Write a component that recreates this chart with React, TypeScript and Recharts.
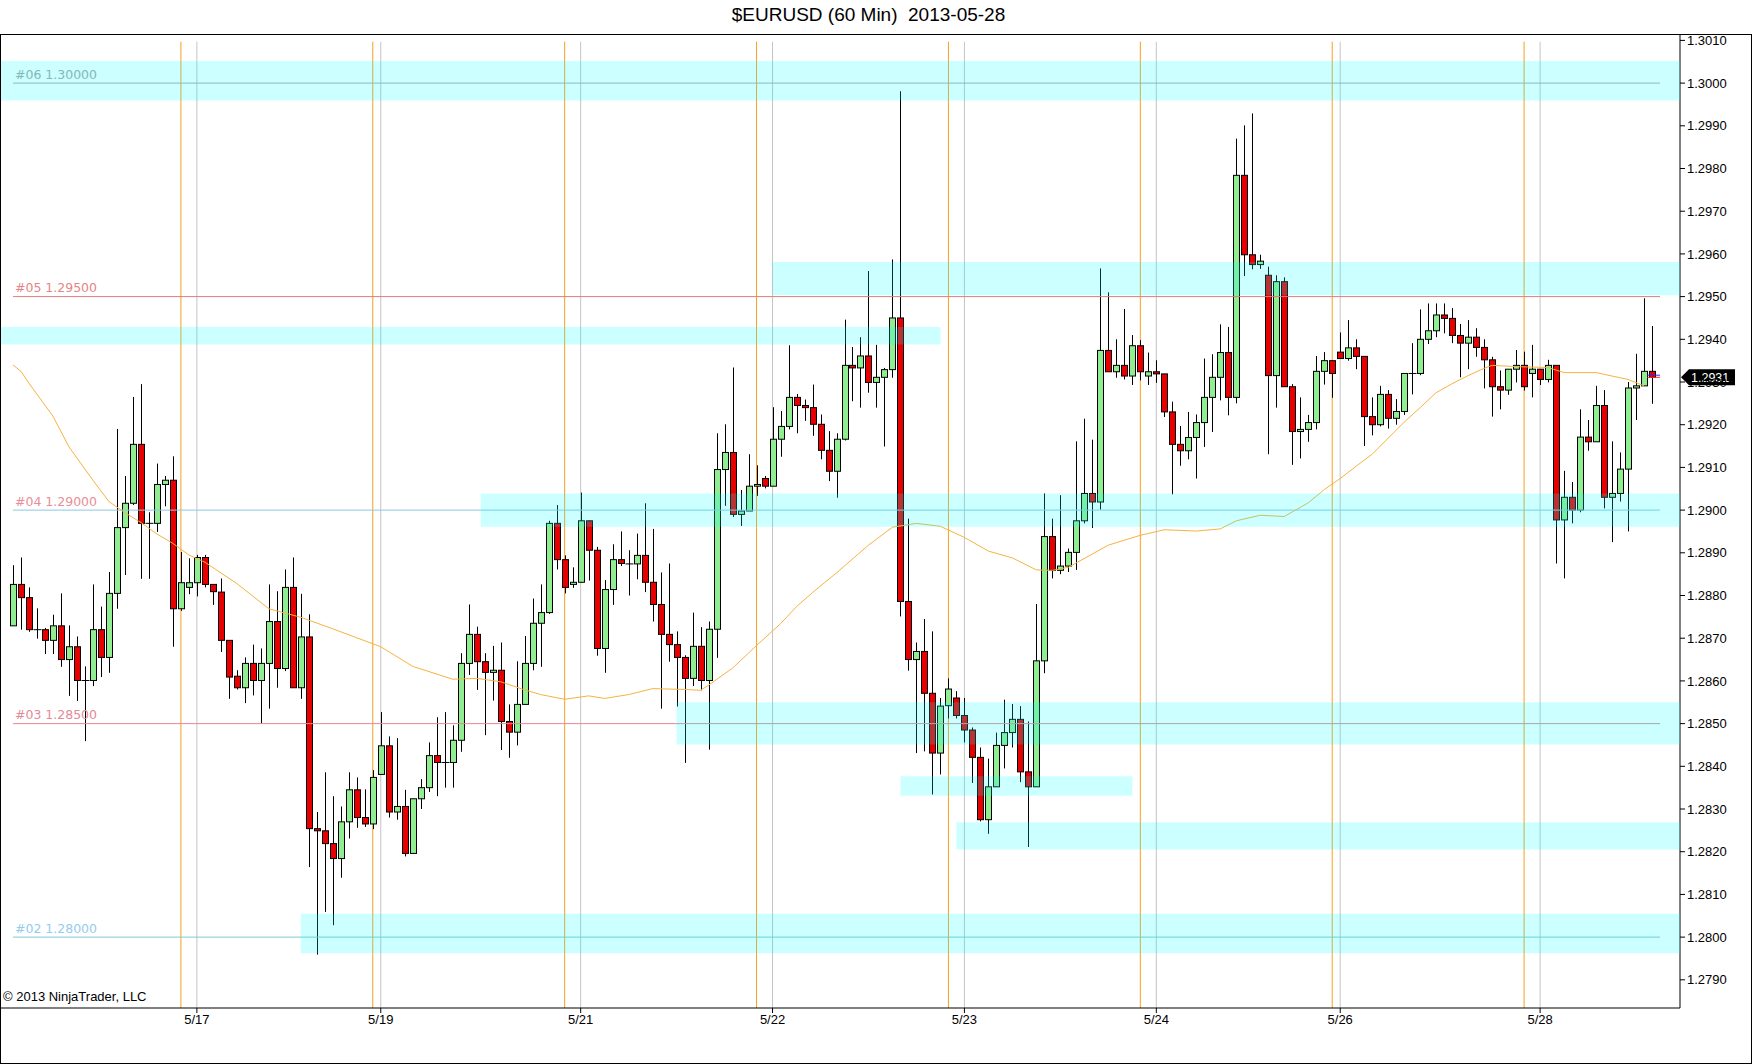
import React from 'react';
import { ComposedChart, Bar, Line, XAxis, YAxis, ReferenceLine, ReferenceArea } from 'recharts';

// hourly bars (bar 0 = first bar on the left)
const opens = [
  1.28729, 1.28826, 1.28795, 1.28720, 1.28720, 1.28695, 1.28729, 1.28650, 1.28680, 1.28601,
  1.28601, 1.28720, 1.28655, 1.28805, 1.28959, 1.29016, 1.29154, 1.28969, 1.28969, 1.29060,
  1.29070, 1.28769, 1.28819, 1.28830, 1.28889, 1.28826, 1.28808, 1.28695, 1.28611, 1.28584,
  1.28641, 1.28601, 1.28641, 1.28739, 1.28629, 1.28819, 1.28584, 1.28703, 1.28254, 1.28249,
  1.28219, 1.28184, 1.28270, 1.28345, 1.28280, 1.28265, 1.28381, 1.28448, 1.28293, 1.28306,
  1.28196, 1.28324, 1.28350, 1.28425, 1.28409, 1.28409, 1.28461, 1.28641, 1.28709, 1.28645,
  1.28620, 1.28625, 1.28505, 1.28480, 1.28545, 1.28641, 1.28735, 1.28760, 1.28969, 1.28884,
  1.28826, 1.28831, 1.28975, 1.28906, 1.28676, 1.28814, 1.28884, 1.28874, 1.28874, 1.28894,
  1.28831, 1.28779, 1.28709, 1.28685, 1.28655, 1.28606, 1.28681, 1.28601, 1.28721, 1.29095,
  1.29135, 1.28990, 1.28998, 1.29056, 1.29074, 1.29056, 1.29166, 1.29196, 1.29264, 1.29245,
  1.29240, 1.29201, 1.29140, 1.29091, 1.29166, 1.29339, 1.29333, 1.29361, 1.29299, 1.29311,
  1.29329, 1.29450, 1.28786, 1.28650, 1.28669, 1.28571, 1.28431, 1.28542, 1.28560, 1.28519,
  1.28485, 1.28421, 1.28275, 1.28352, 1.28449, 1.28479, 1.28510, 1.28387, 1.28352, 1.28647,
  1.28938, 1.28859, 1.28869, 1.28901, 1.28975, 1.29039, 1.29019, 1.29374, 1.29324, 1.29339,
  1.29314, 1.29385, 1.29314, 1.29324, 1.29319, 1.29230, 1.29154, 1.29139, 1.29170, 1.29205,
  1.29264, 1.29311, 1.29369, 1.29264, 1.29784, 1.29598, 1.29575, 1.29550, 1.29315, 1.29535,
  1.29289, 1.29184, 1.29189, 1.29205, 1.29325, 1.29350, 1.29370, 1.29355, 1.29380, 1.29360,
  1.29219, 1.29200, 1.29271, 1.29215, 1.29231, 1.29320, 1.29320, 1.29400, 1.29420, 1.29457,
  1.29449, 1.29409, 1.29391, 1.29405, 1.29381, 1.29352, 1.29289, 1.29281, 1.29330, 1.29339,
  1.29320, 1.29330, 1.29306, 1.29339, 1.28977, 1.29030, 1.29000, 1.29171, 1.29160, 1.29245,
  1.29030, 1.29039, 1.29096, 1.29286, 1.29291, 1.29325,
];

const highs = [
  1.28871, 1.28889, 1.28819, 1.28770, 1.28724, 1.28755, 1.28805, 1.28730, 1.28704, 1.28634,
  1.28826, 1.28774, 1.28855, 1.29190, 1.29080, 1.29265, 1.29295, 1.28995, 1.29109, 1.29080,
  1.29126, 1.28902, 1.28887, 1.28895, 1.28895, 1.28826, 1.28840, 1.28695, 1.28625, 1.28655,
  1.28685, 1.28676, 1.28826, 1.28810, 1.28861, 1.28889, 1.28804, 1.28756, 1.28293, 1.28386,
  1.28330, 1.28306, 1.28386, 1.28374, 1.28346, 1.28391, 1.28527, 1.28470, 1.28466, 1.28345,
  1.28324, 1.28370, 1.28456, 1.28515, 1.28527, 1.28496, 1.28665, 1.28779, 1.28727, 1.28665,
  1.28682, 1.28690, 1.28545, 1.28646, 1.28705, 1.28793, 1.28826, 1.28975, 1.29012, 1.28894,
  1.28866, 1.29041, 1.28975, 1.28914, 1.28836, 1.28920, 1.28950, 1.28906, 1.28945, 1.29016,
  1.28956, 1.28854, 1.28875, 1.28716, 1.28660, 1.28760, 1.28726, 1.28739, 1.29180, 1.29201,
  1.29334, 1.29047, 1.29131, 1.29105, 1.29080, 1.29241, 1.29232, 1.29386, 1.29272, 1.29259,
  1.29294, 1.29224, 1.29185, 1.29180, 1.29446, 1.29382, 1.29405, 1.29560, 1.29387, 1.29333,
  1.29587, 1.29981, 1.28980, 1.28690, 1.28745, 1.28716, 1.28560, 1.28606, 1.28576, 1.28560,
  1.28491, 1.28444, 1.28418, 1.28479, 1.28556, 1.28546, 1.28541, 1.28505, 1.28780, 1.29039,
  1.28980, 1.29035, 1.28910, 1.29161, 1.29214, 1.29165, 1.29566, 1.29510, 1.29400, 1.29471,
  1.29410, 1.29398, 1.29369, 1.29351, 1.29319, 1.29254, 1.29197, 1.29230, 1.29224, 1.29355,
  1.29365, 1.29435, 1.29429, 1.29870, 1.29901, 1.29929, 1.29598, 1.29570, 1.29550, 1.29545,
  1.29295, 1.29264, 1.29223, 1.29361, 1.29370, 1.29350, 1.29416, 1.29445, 1.29400, 1.29360,
  1.29264, 1.29291, 1.29281, 1.29260, 1.29320, 1.29391, 1.29470, 1.29484, 1.29484, 1.29484,
  1.29473, 1.29436, 1.29445, 1.29426, 1.29400, 1.29359, 1.29327, 1.29330, 1.29375, 1.29371,
  1.29387, 1.29330, 1.29352, 1.29339, 1.29092, 1.29066, 1.29236, 1.29211, 1.29291, 1.29281,
  1.29161, 1.29135, 1.29300, 1.29366, 1.29496, 1.29431,
];

const lows = [
  1.28729, 1.28720, 1.28715, 1.28699, 1.28663, 1.28663, 1.28633, 1.28565, 1.28553, 1.28459,
  1.28588, 1.28609, 1.28619, 1.28769, 1.28848, 1.29012, 1.28839, 1.28839, 1.28949, 1.29009,
  1.28680, 1.28764, 1.28803, 1.28798, 1.28819, 1.28778, 1.28668, 1.28558, 1.28580, 1.28548,
  1.28566, 1.28500, 1.28535, 1.28584, 1.28623, 1.28584, 1.28558, 1.28164, 1.27959, 1.28059,
  1.28028, 1.28139, 1.28231, 1.28256, 1.28258, 1.28253, 1.28381, 1.28280, 1.28275, 1.28189,
  1.28196, 1.28300, 1.28340, 1.28330, 1.28350, 1.28350, 1.28434, 1.28614, 1.28579, 1.28473,
  1.28554, 1.28438, 1.28420, 1.28449, 1.28545, 1.28625, 1.28633, 1.28757, 1.28861, 1.28805,
  1.28818, 1.28831, 1.28835, 1.28659, 1.28619, 1.28778, 1.28869, 1.28800, 1.28838, 1.28808,
  1.28739, 1.28535, 1.28645, 1.28540, 1.28408, 1.28588, 1.28578, 1.28439, 1.28654, 1.29010,
  1.28984, 1.28963, 1.28998, 1.29033, 1.29051, 1.29056, 1.29125, 1.29189, 1.29180, 1.29209,
  1.29174, 1.29119, 1.29068, 1.29029, 1.29163, 1.29255, 1.29240, 1.29275, 1.29240, 1.29149,
  1.29310, 1.28751, 1.28624, 1.28431, 1.28435, 1.28334, 1.28381, 1.28512, 1.28512, 1.28456,
  1.28361, 1.28271, 1.28242, 1.28352, 1.28395, 1.28444, 1.28363, 1.28211, 1.28352, 1.28618,
  1.28840, 1.28850, 1.28855, 1.28860, 1.28969, 1.28958, 1.29001, 1.29324, 1.29310, 1.29306,
  1.29293, 1.29304, 1.29293, 1.29298, 1.29218, 1.29037, 1.29104, 1.29119, 1.29074, 1.29148,
  1.29183, 1.29257, 1.29222, 1.29250, 1.29548, 1.29564, 1.29565, 1.29131, 1.29240, 1.29289,
  1.29106, 1.29121, 1.29160, 1.29189, 1.29294, 1.29263, 1.29355, 1.29350, 1.29330, 1.29150,
  1.29175, 1.29196, 1.29191, 1.29200, 1.29223, 1.29271, 1.29316, 1.29389, 1.29405, 1.29414,
  1.29391, 1.29311, 1.29330, 1.29359, 1.29285, 1.29219, 1.29236, 1.29270, 1.29299, 1.29280,
  1.29264, 1.29293, 1.29299, 1.28875, 1.28840, 1.28969, 1.28995, 1.29139, 1.29160, 1.29004,
  1.28925, 1.29020, 1.28950, 1.29211, 1.29291, 1.29249,
];

const closes = [
  1.28826, 1.28795, 1.28720, 1.28720, 1.28695, 1.28729, 1.28650, 1.28680, 1.28601, 1.28601,
  1.28720, 1.28655, 1.28805, 1.28959, 1.29016, 1.29154, 1.28969, 1.28969, 1.29060, 1.29070,
  1.28769, 1.28830, 1.28830, 1.28889, 1.28826, 1.28809, 1.28695, 1.28609, 1.28584, 1.28641,
  1.28601, 1.28641, 1.28739, 1.28629, 1.28819, 1.28584, 1.28703, 1.28254, 1.28249, 1.28219,
  1.28184, 1.28270, 1.28345, 1.28280, 1.28265, 1.28374, 1.28448, 1.28293, 1.28306, 1.28196,
  1.28324, 1.28350, 1.28425, 1.28409, 1.28409, 1.28461, 1.28641, 1.28709, 1.28645, 1.28620,
  1.28625, 1.28505, 1.28480, 1.28545, 1.28641, 1.28735, 1.28760, 1.28969, 1.28884, 1.28819,
  1.28831, 1.28975, 1.28906, 1.28676, 1.28814, 1.28884, 1.28875, 1.28874, 1.28894, 1.28831,
  1.28779, 1.28709, 1.28685, 1.28655, 1.28606, 1.28681, 1.28601, 1.28721, 1.29095, 1.29135,
  1.28990, 1.28998, 1.29056, 1.29060, 1.29056, 1.29166, 1.29196, 1.29264, 1.29245, 1.29240,
  1.29201, 1.29140, 1.29091, 1.29166, 1.29339, 1.29333, 1.29361, 1.29299, 1.29311, 1.29329,
  1.29450, 1.28786, 1.28650, 1.28669, 1.28571, 1.28431, 1.28541, 1.28581, 1.28519, 1.28485,
  1.28421, 1.28275, 1.28352, 1.28449, 1.28479, 1.28510, 1.28387, 1.28352, 1.28647, 1.28938,
  1.28859, 1.28869, 1.28901, 1.28975, 1.29039, 1.29019, 1.29374, 1.29324, 1.29339, 1.29314,
  1.29385, 1.29324, 1.29324, 1.29319, 1.29230, 1.29154, 1.29139, 1.29170, 1.29205, 1.29264,
  1.29311, 1.29369, 1.29264, 1.29784, 1.29598, 1.29575, 1.29583, 1.29315, 1.29535, 1.29289,
  1.29184, 1.29189, 1.29205, 1.29325, 1.29350, 1.29320, 1.29355, 1.29380, 1.29360, 1.29219,
  1.29200, 1.29271, 1.29215, 1.29231, 1.29320, 1.29320, 1.29400, 1.29420, 1.29457, 1.29449,
  1.29409, 1.29391, 1.29405, 1.29381, 1.29352, 1.29289, 1.29281, 1.29330, 1.29339, 1.29289,
  1.29330, 1.29306, 1.29339, 1.28977, 1.29030, 1.29000, 1.29171, 1.29160, 1.29245, 1.29030,
  1.29039, 1.29096, 1.29286, 1.29291, 1.29325, 1.29311,
];

// moving average line, sampled at these bars
const smaBars = [
  0, 1, 2, 5, 7, 10, 12, 14, 16, 18, 20, 22, 24, 28, 32, 36, 40, 43, 46, 50,
  55, 58, 61, 64, 66, 69, 72, 74, 77, 80, 84, 86, 87, 90, 93, 96, 98, 100, 103, 107,
  110, 113, 116, 119, 122, 125, 128, 130, 132, 137, 141, 144, 148, 151, 153, 156, 159, 162, 164, 166,
  168, 170, 174, 176, 178, 180, 182, 184, 185, 188, 192, 194, 198, 201, 202, 204,
];
const smaValues = [
  1.29340, 1.29325, 1.29297, 1.29220, 1.29148, 1.29070, 1.29020, 1.28994, 1.28971, 1.28944,
  1.28922, 1.28895, 1.28878, 1.28828, 1.28769, 1.28749, 1.28722, 1.28701, 1.28680, 1.28634,
  1.28604, 1.28606, 1.28598, 1.28579, 1.28568, 1.28557, 1.28565, 1.28559, 1.28568, 1.28582,
  1.28580, 1.28578, 1.28590, 1.28630, 1.28683, 1.28734, 1.28774, 1.28807, 1.28853, 1.28918,
  1.28960, 1.28969, 1.28962, 1.28936, 1.28904, 1.28888, 1.28860, 1.28859, 1.28866, 1.28918,
  1.28941, 1.28954, 1.28951, 1.28956, 1.28975, 1.28988, 1.28985, 1.29017, 1.29048, 1.29074,
  1.29103, 1.29131, 1.29206, 1.29240, 1.29275, 1.29296, 1.29315, 1.29332, 1.29339, 1.29336,
  1.29334, 1.29322, 1.29322, 1.29310, 1.29306, 1.29291,
];

const dateTicks = [23, 46, 71, 95, 119, 143, 166, 191];
const dateLabels = ['5/17', '5/19', '5/21', '5/22', '5/23', '5/24', '5/26', '5/28'];
const sessionBars = [21, 45, 69, 93, 117, 141, 165, 189];

const priceTicks = [
  1.279, 1.28, 1.281, 1.282, 1.283, 1.284, 1.285, 1.286, 1.287, 1.288, 1.289, 1.29,
  1.291, 1.292, 1.293, 1.294, 1.295, 1.296, 1.297, 1.298, 1.299, 1.3, 1.301,
];

const levelNames = ['#06', '#05', '#04', '#03', '#02'];
const levelPrices = [1.3, 1.295, 1.29, 1.285, 1.28];

// zones: first/last bar (fractional = bar edge, -1.5 / 208.5 = plot edges) and price range
const zoneFrom = [-1.5, 95, -1.5, 58.5, 83, 111, 118, 36];
const zoneTo = [208.5, 208.5, 116, 208.5, 208.5, 140, 208.5, 208.5];
const zoneLow = [1.29959, 1.29503, 1.29388, 1.28961, 1.28451, 1.28331, 1.28205, 1.27962];
const zoneHigh = [1.30052, 1.29581, 1.29429, 1.29039, 1.28550, 1.28377, 1.28269, 1.28055];

const SLOTS = 209; // 206 bars + 3 empty slots at the right
const rows = Array.from({ length: SLOTS }, (_, i) => {
  const k = smaBars.indexOf(i);
  return {
    i,
    o: opens[i] ?? null,
    h: highs[i] ?? null,
    l: lows[i] ?? null,
    c: closes[i] ?? null,
    sma: k >= 0 ? smaValues[k] : null,
  };
});

const lastClose = closes[closes.length - 1];

const levelLineColor = ['#b4a4b4', '#e07c7c', '#8ec6e0', '#e08a98', '#86c4d6'];
const levelTextColor = ['#a6a6a6', '#e48686', '#e88e96', '#e48a98', '#94ccec'];

const Candle = (props: any) => {
  const { x, y, width, height, payload } = props;
  if (!payload || payload.h == null) return null;
  const { o, h, l, c } = payload;
  const span = h - l || 1e-9;
  const toY = (v: number) => y + ((h - v) / span) * height;
  const cx = Math.round(x + width / 2) + 0.5;
  const yTop = toY(Math.max(o, c));
  const yBot = toY(Math.min(o, c));
  const up = c >= o;
  return (
    <g>
      <line x1={cx} x2={cx} y1={y} y2={y + height} stroke="#000" strokeWidth={1} />
      {yBot - yTop < 1.2 ? (
        <line x1={cx - 4} x2={cx + 4} y1={yTop} y2={yTop} stroke="#000" strokeWidth={1} />
      ) : (
        <rect
          x={cx - 3}
          y={yTop}
          width={6}
          height={yBot - yTop}
          fill={up ? '#90ee90' : '#e80000'}
          stroke="#000"
          strokeWidth={1}
        />
      )}
    </g>
  );
};

const levelLabel = (text: string, color: string) => (p: any) => {
  const vb = p.viewBox || {};
  return (
    <text x={vb.x + 2} y={vb.y - 4.5} fill={color} fontSize={12.5} fontFamily="DejaVu Sans">
      {text}
    </text>
  );
};

const priceMarker = (p: any) => {
  const vb = p.viewBox || {};
  const x0 = vb.x + vb.width + 1;
  const yc = vb.y;
  return (
    <g>
      <polygon
        points={`${x0},${yc} ${x0 + 8},${yc - 8} ${x0 + 54},${yc - 8} ${x0 + 54},${yc + 8} ${x0 + 8},${yc + 8}`}
        fill="#000"
      />
      <text x={x0 + 10} y={yc + 4.5} fill="#fff" fontSize={12.5}>
        {lastClose.toFixed(4)}
      </text>
    </g>
  );
};

export default function App() {
  const W = 1752;
  const H = 1064;
  return (
    <div
      style={{
        position: 'absolute',
        left: 0,
        top: 0,
        width: W,
        height: H,
        background: '#fff',
        fontFamily: '"Liberation Sans", Arial, sans-serif',
      }}
    >
      <div
        style={{
          position: 'absolute',
          left: 0,
          top: 4,
          width: 1737,
          textAlign: 'center',
          fontSize: 19,
          whiteSpace: 'pre',
          color: '#000',
        }}
      >
        {'$EURUSD (60 Min)  2013-05-28'}
      </div>
      <ComposedChart width={W} height={H} data={rows} margin={{ top: 34, right: 0, bottom: 0, left: 1 }}>
        <XAxis
          dataKey="i"
          type="category"
          ticks={dateTicks}
          interval={0}
          tickFormatter={(v: number) => dateLabels[dateTicks.indexOf(v)] ?? ''}
          padding={{ left: 8, right: 0 }}
          height={56}
          tickSize={5}
          axisLine={{ stroke: '#000' }}
          tickLine={{ stroke: '#000' }}
          tick={{ fill: '#000', fontSize: 13 }}
        />
        <XAxis xAxisId="n" type="number" dataKey="i" domain={[-1.5, 208.5]} allowDataOverflow hide />
        <YAxis
          orientation="right"
          width={72}
          domain={[1.27834, 1.30115]}
          allowDataOverflow
          ticks={priceTicks}
          interval={0}
          tickFormatter={(v: number) => v.toFixed(4)}
          tickSize={5}
          axisLine={{ stroke: '#000' }}
          tickLine={{ stroke: '#000' }}
          tick={{ fill: '#000', fontSize: 13 }}
        />

        {sessionBars.map((b) => (
          <ReferenceLine
            key={'s' + b}
            xAxisId="n"
            segment={[{ x: b, y: 1.30097 }, { x: b, y: 1.27834 }]}
            stroke="#f4a21c"
            strokeWidth={1}
            zIndex={50}
          />
        ))}
        {dateTicks.map((b) => (
          <ReferenceLine
            key={'d' + b}
            xAxisId="n"
            segment={[{ x: b, y: 1.30097 }, { x: b, y: 1.27834 }]}
            stroke="#c4c4c4"
            strokeWidth={1}
            zIndex={50}
          />
        ))}
        {levelPrices.map((p, k) => (
          <ReferenceLine
            key={'lv' + k}
            xAxisId="n"
            segment={[{ x: 0, y: p }, { x: 206, y: p }]}
            stroke={levelLineColor[k]}
            strokeWidth={1}
            label={{ content: levelLabel(`${levelNames[k]} ${p.toFixed(5)}`, levelTextColor[k]) }}
          />
        ))}

        <Bar dataKey={(r: any) => (r.h == null ? null : [r.l, r.h])} barSize={6} shape={<Candle />} isAnimationActive={false} />
        <Line
          dataKey="sma"
          stroke="#f5b342"
          strokeWidth={1}
          dot={false}
          activeDot={false}
          connectNulls
          isAnimationActive={false}
        />

        {zoneFrom.map((x1, k) => (
          <ReferenceArea
            key={'z' + k}
            xAxisId="n"
            x1={x1}
            x2={zoneTo[k]}
            y1={zoneLow[k]}
            y2={zoneHigh[k]}
            fill="#00ffff"
            fillOpacity={0.2}
            stroke="none"
            ifOverflow="visible"
            zIndex={500}
          />
        ))}

        <ReferenceLine
          xAxisId="n"
          segment={[{ x: 204.4, y: lastClose + 0.00005 }, { x: 206, y: lastClose + 0.00005 }]}
          stroke="#2a2aff"
          strokeWidth={1}
        />
        <ReferenceLine
          xAxisId="n"
          segment={[{ x: 204.4, y: lastClose }, { x: 206, y: lastClose }]}
          stroke="#ff2a2a"
          strokeWidth={1}
        />
        <ReferenceLine
          xAxisId="n"
          y={lastClose}
          stroke="none"
          ifOverflow="visible"
          label={{ content: priceMarker }}
        />
      </ComposedChart>
      <div
        style={{
          position: 'absolute',
          left: 0,
          top: 34,
          width: W,
          height: H - 34,
          border: '1px solid #000',
          boxSizing: 'border-box',
          pointerEvents: 'none',
        }}
      />
      <div style={{ position: 'absolute', left: 3, top: 990, fontSize: 13, color: '#000', lineHeight: '14px' }}>
        © 2013 NinjaTrader, LLC
      </div>
    </div>
  );
}
